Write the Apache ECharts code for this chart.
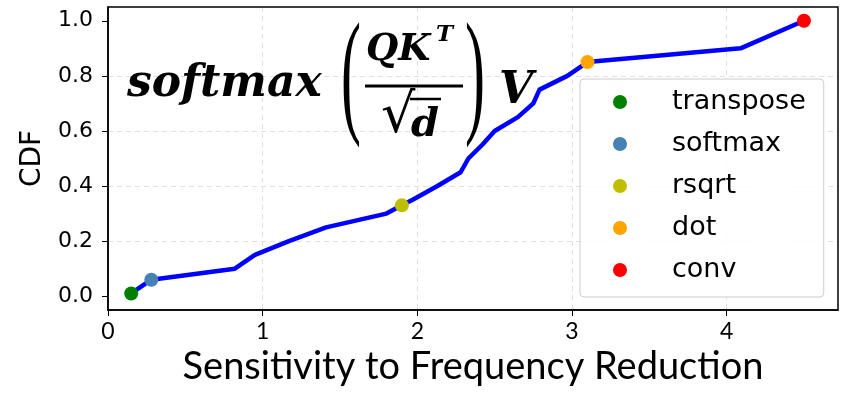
<!DOCTYPE html>
<html>
<head>
<meta charset="utf-8">
<script src="https://cdn.jsdelivr.net/npm/echarts@6/dist/echarts.min.js"></script>
<style>
  html, body { margin: 0; padding: 0; background: #fff; }
  #chart { width: 844px; height: 394px; }
</style>
</head>
<body>
<div id="chart"></div>
<script>
// CDF curve
const sensitivity = [0.15, 0.28, 0.82, 0.95, 1.17, 1.41, 1.80, 1.90, 1.97, 2.13, 2.28, 2.33, 2.42, 2.50, 2.65, 2.75, 2.79, 2.97, 3.10, 4.09, 4.50]
const cdf = [0.01, 0.06, 0.10, 0.15, 0.20, 0.25, 0.30, 0.33, 0.35, 0.40, 0.45, 0.50, 0.55, 0.60, 0.65, 0.70, 0.75, 0.80, 0.85, 0.90, 1.00]

// highlighted ops
const opNames = ['transpose', 'softmax', 'rsqrt', 'dot', 'conv']
const opX = [0.15, 0.28, 1.90, 3.10, 4.50]
const opY = [0.01, 0.06, 0.33, 0.85, 1.00]
const opColors = ['#008000', '#4682b4', '#bfbf00', '#ffa500', '#ff0000']

const yTicks = [0, 0.2, 0.4, 0.6, 0.8, 1.0]

const myChart = echarts.init(document.getElementById('chart'), null, { renderer: 'canvas' })

const gridDash = { color: '#e0e0e0', type: [5, 4], width: 1 }
const serifBI = (size) => 'italic bold ' + size + 'px "DejaVu Serif"'

function txt(text, x, y, font, extra) {
  return Object.assign({
    type: 'text',
    x: x,
    y: y,
    z: 50,
    style: {
      text: text,
      font: font,
      fill: '#000',
      textAlign: 'left',
      textVerticalAlign: 'middle',
      align: 'left',
      verticalAlign: 'middle'
    }
  }, extra || {})
}

const option = {
  animation: false,
  grid: {
    show: true,
    left: 108,
    right: 6,
    top: 7,
    bottom: 84,
    borderColor: '#000',
    borderWidth: 1.5,
    z: 10
  },
  xAxis: {
    type: 'value',
    min: 0,
    max: 4.72,
    interval: 1,
    name: 'Sensitivity to Frequency Reduction',
    nameLocation: 'middle',
    nameGap: 34,
    nameTextStyle: { fontFamily: 'Lato', fontSize: 38, color: '#000' },
    axisLine: { show: true, onZero: false, lineStyle: { color: '#000', width: 1.5 } },
    axisTick: { show: true, inside: false, length: 6, lineStyle: { color: '#000' } },
    axisLabel: {
      margin: 10,
      showMaxLabel: false,
      fontFamily: 'Lato',
      fontSize: 23,
      color: '#000',
      formatter: (v) => (Number.isInteger(v) ? String(v) : '')
    },
    splitLine: { show: true, showMinLine: false, showMaxLine: false, lineStyle: gridDash }
  },
  yAxis: {
    type: 'value',
    min: -0.05,
    max: 1.05,
    name: 'CDF',
    nameLocation: 'middle',
    nameGap: 60,
    nameRotate: 90,
    nameTextStyle: { fontFamily: 'DejaVu Sans', fontSize: 28, color: '#000' },
    axisLine: { show: true, onZero: false, lineStyle: { color: '#000', width: 1.5 } },
    axisTick: { show: true, inside: false, length: 6, customValues: yTicks, lineStyle: { color: '#000' } },
    axisLabel: {
      margin: 15,
      customValues: yTicks,
      fontFamily: 'DejaVu Sans',
      fontSize: 22,
      color: '#000',
      formatter: (v) => v.toFixed(1)
    },
    splitLine: { show: true, showMinLine: false, showMaxLine: false, lineStyle: gridDash }
  },
  legend: {
    data: opNames,
    orient: 'vertical',
    left: 580,
    top: 79,
    padding: [8, 18, 12, 33],
    itemGap: 12,
    itemWidth: 14,
    itemHeight: 14,
    icon: 'circle',
    backgroundColor: 'rgba(255,255,255,0.85)',
    borderColor: '#cccccc',
    borderWidth: 1,
    borderRadius: 4,
    textStyle: {
      fontFamily: 'DejaVu Sans',
      fontSize: 27,
      lineHeight: 30,
      color: '#000',
      padding: [0, 0, 0, 40]
    }
  },
  series: [
    {
      name: 'cdf',
      type: 'line',
      data: sensitivity.map((x, i) => [x, cdf[i]]),
      showSymbol: false,
      symbol: 'none',
      lineStyle: { color: '#0000ff', width: 4.5, join: 'round' },
      z: 2
    }
  ].concat(opNames.map((name, i) => ({
    name: name,
    type: 'scatter',
    data: [[opX[i], opY[i]]],
    symbolSize: 14,
    itemStyle: { color: opColors[i], opacity: 1 },
    z: 5
  }))),
  graphic: [
    txt('softmax', 127, 85, serifBI(44)),
    txt('(', 341, 82, '60px "Liberation Serif"', { scaleY: 2.3 }),
    txt('QK', 366, 50, serifBI(37)),
    txt('T', 436, 35, serifBI(23)),
    { type: 'line', z: 50, shape: { x1: 365, y1: 86, x2: 463, y2: 86 }, style: { stroke: '#000', lineWidth: 3 } },
    txt('√', 381, 118, '54px "DejaVu Serif"'),
    { type: 'line', z: 50, shape: { x1: 410, y1: 99, x2: 441, y2: 99 }, style: { stroke: '#000', lineWidth: 2.5 } },
    txt('d', 411, 126, serifBI(40)),
    txt(')', 465, 82, '60px "Liberation Serif"', { scaleY: 2.3 }),
    txt('V', 499, 92, serifBI(44))
  ]
}

myChart.setOption(option)
</script>
</body>
</html>
